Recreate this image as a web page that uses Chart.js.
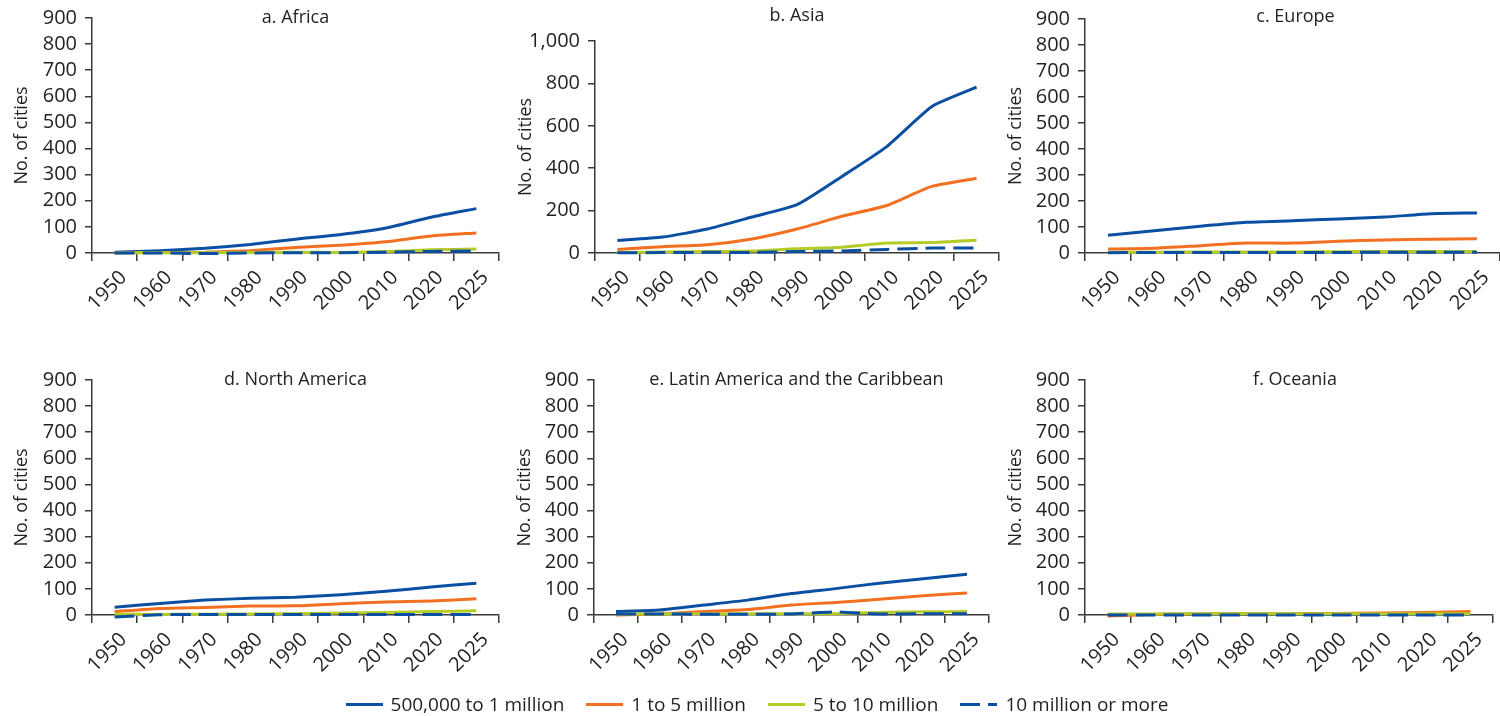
<!DOCTYPE html>
<html>
<head>
<meta charset="utf-8">
<script src="https://cdn.jsdelivr.net/npm/chart.js@4.4.0/dist/chart.umd.min.js"></script>
<style>
body { margin: 0; width: 1500px; height: 716px; background: #fff; overflow: hidden; position: relative; font-family: "Open Sans", sans-serif; }
.panel { position: absolute; width: 500px; height: 335px; }
#legend { position: absolute; left: 7px; top: 691px; width: 1500px; display: flex; justify-content: center; align-items: center; font-size: 19px; color: #231f20; }
#legend .item { display: flex; align-items: center; margin: 0 11px; }
#legend .swatch { width: 37px; height: 3px; margin-right: 8px; }
</style>
</head>
<body>
<div class="panel" style="left:0;top:0"><canvas id="africa"></canvas></div>
<div class="panel" style="left:500px;top:0"><canvas id="asia"></canvas></div>
<div class="panel" style="left:1000px;top:0"><canvas id="europe"></canvas></div>
<div class="panel" style="left:0;top:362px"><canvas id="northAmerica"></canvas></div>
<div class="panel" style="left:500px;top:362px"><canvas id="latinAmerica"></canvas></div>
<div class="panel" style="left:1000px;top:362px"><canvas id="oceania"></canvas></div>
<div id="legend"></div>
<script>
// categories
const years = ['1950', '1960', '1970', '1980', '1990', '2000', '2010', '2020', '2025'];
const seriesNames = ['500,000 to 1 million', '1 to 5 million', '5 to 10 million', '10 million or more'];

// values (number of cities)
const africaMid = [3, 9, 18, 33, 53, 71, 96, 137, 170];
const africaLarge = [1, 2, 3, 9, 21, 30, 43, 65, 77];
const africaMega = [0, 1, 1, 2, 3, 2, 6, 12, 15];
const africaMeta = [0, 0, -2, 0, 1, 1, 3, 6, 8];

const asiaMid = [59, 75, 113, 170, 228, 361, 502, 690, 782];
const asiaLarge = [17, 30, 39, 66, 113, 173, 224, 314, 353];
const asiaMega = [2, 5, 7, 9, 20, 27, 47, 49, 60];
const asiaMeta = [1, 2, 3, 3, 7, 10, 17, 23, 24];

const europeMid = [68, 86, 103, 118, 124, 131, 138, 151, 154];
const europeLarge = [15, 18, 28, 38, 38, 45, 50, 53, 55];
const europeMega = [3, 3, 4, 4, 4, 5, 6, 6, 6];
const europeMeta = [1, 2, 2, 2, 2, 2, 3, 3, 3];

const naMid = [30, 44, 57, 64, 68, 78, 91, 107, 122];
const naLarge = [13, 25, 29, 34, 35, 43, 50, 54, 62];
const naMega = [4, 2, 3, 4, 5, 8, 10, 13, 16];
const naMeta = [-8, 1, 2, 2, 2, 2, 2, 2, 2];

const latMid = [13, 19, 38, 57, 82, 101, 122, 139, 156];
const latLarge = [0, 4, 13, 21, 38, 48, 60, 74, 84];
const latMega = [3, 4, 5, 5, 5, 5, 10, 12, 13];
const latMeta = [4, 4, 3, 3, 4, 12, 4, 5, 5];

const oceMid = [1, 2, 3, 3, 3, 3, 4, 4, 4];
const oceLarge = [-4, 2, 4, 5, 5, 6, 8, 10, 13];
const oceMega = [4, 4, 5, 5, 5, 5, 5, 5, 5];
const oceMeta = [0, 0, 0, 0, 0, 0, 0, 0, 0];

// y tick labels
const yTicks900 = [0, 100, 200, 300, 400, 500, 600, 700, 800, 900];
const yTicks1000 = [0, 200, 400, 600, 800, 1000];

const colors = ['#0b4fa3', '#f37021', '#b5cb26', '#0b4fa3'];
const textColor = '#231f20';
const axisColor = '#3a3a3a';

Chart.defaults.font.family = "'Open Sans', sans-serif";
Chart.defaults.color = textColor;

// panel caption drawn inside the plot area
const panelTitle = {
    id: 'panelTitle',
    afterDraw(chart, args, opts) {
        const { ctx, chartArea } = chart;
        ctx.save();
        ctx.font = "18px 'Open Sans'";
        ctx.fillStyle = textColor;
        ctx.textAlign = 'center';
        ctx.textBaseline = 'middle';
        ctx.fillText(opts.text, (chartArea.left + chartArea.right) / 2 + opts.dx, chartArea.top + opts.dy);
        ctx.restore();
    }
};

function makeChart(id, title, series, cfg) {
    const datasets = series.map((data, i) => ({
        label: seriesNames[i],
        data: data,
        borderColor: colors[i],
        backgroundColor: colors[i],
        borderWidth: 3,
        borderDash: i === 3 ? [20, 8] : [],
        pointRadius: 0,
        tension: 0.18,
        clip: false,
        order: 3 - i
    }));
    const ticksList = cfg.max === 1000 ? yTicks1000 : yTicks900;
    new Chart(document.getElementById(id), {
        type: 'line',
        data: { labels: years, datasets: datasets },
        plugins: [panelTitle],
        options: {
            responsive: true,
            maintainAspectRatio: false,
            animation: false,
            layout: { padding: { top: cfg.top, right: cfg.right, left: 0, bottom: 0 } },
            plugins: {
                legend: { display: false },
                tooltip: { enabled: false },
                panelTitle: { text: title, dx: cfg.dx, dy: cfg.dy }
            },
            scales: {
                x: {
                    offset: true,
                    grid: { offset: true, drawOnChartArea: false, color: axisColor, tickLength: 8, lineWidth: 1.5 },
                    border: { color: axisColor, width: 1.5 },
                    ticks: { maxRotation: 45, minRotation: 45, padding: 5, labelOffset: 9, font: { size: 20 }, autoSkip: false },
                    afterFit: (s) => { s.height = 82; }
                },
                y: {
                    min: 0,
                    max: cfg.max,
                    afterBuildTicks: (s) => { s.ticks = ticksList.map(v => ({ value: v })); },
                    grid: { drawOnChartArea: false, color: axisColor, tickLength: 7, lineWidth: 1.5 },
                    border: { color: axisColor, width: 1.5 },
                    ticks: { padding: 8, autoSkip: false, font: { size: 20, lineHeight: 1 }, callback: (v) => v.toLocaleString('en-US') },
                    title: { display: true, text: 'No. of cities', font: { size: 18 }, padding: { top: cfg.titlePad, bottom: 0 } },
                    afterFit: (s) => { s.width = cfg.left; }
                }
            }
        }
    });
}

makeChart('africa', 'a. Africa', [africaMid, africaLarge, africaMega, africaMeta],
    { max: 900, top: 15, right: 1, left: 92, titlePad: 10.7, dx: 0, dy: 0 });
makeChart('asia', 'b. Asia', [asiaMid, asiaLarge, asiaMega, asiaMeta],
    { max: 1000, top: 41, right: 1, left: 95, titlePad: 15, dx: 0, dy: -25 });
makeChart('europe', 'c. Europe', [europeMid, europeLarge, europeMega, europeMeta],
    { max: 900, top: 19, right: 0, left: 85, titlePad: 5, dx: 3, dy: -2 });
makeChart('northAmerica', 'd. North America', [naMid, naLarge, naMega, naMeta],
    { max: 900, top: 14, right: 1, left: 92, titlePad: 10.7, dx: 0, dy: 0 });
makeChart('latinAmerica', 'e. Latin America and the Caribbean', [latMid, latLarge, latMega, latMeta],
    { max: 900, top: 14, right: 11, left: 94, titlePad: 14, dx: 5, dy: 0 });
makeChart('oceania', 'f. Oceania', [oceMid, oceLarge, oceMega, oceMeta],
    { max: 900, top: 14, right: 7, left: 85, titlePad: 5, dx: 6, dy: 0 });

// shared legend
const legend = document.getElementById('legend');
seriesNames.forEach((name, i) => {
    const item = document.createElement('div');
    item.className = 'item';
    const sw = document.createElement('div');
    sw.className = 'swatch';
    if (i === 3) {
        sw.style.background = `linear-gradient(to right, ${colors[i]} 0 20px, transparent 20px 28px, ${colors[i]} 28px 37px)`;
    } else {
        sw.style.background = colors[i];
    }
    const label = document.createElement('span');
    label.textContent = name;
    item.appendChild(sw);
    item.appendChild(label);
    legend.appendChild(item);
});
</script>
</body>
</html>
